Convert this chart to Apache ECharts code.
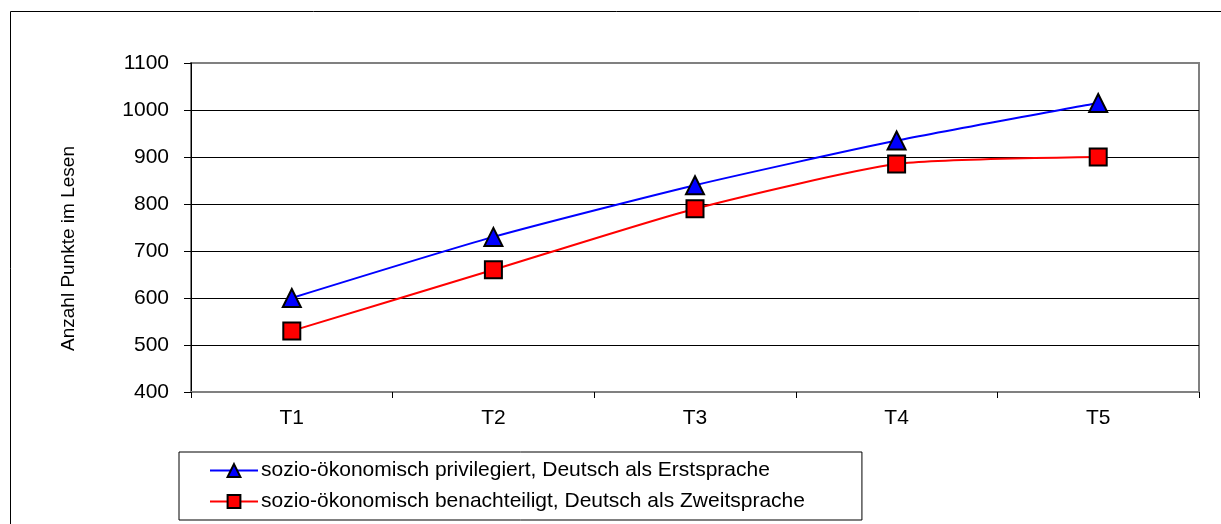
<!DOCTYPE html>
<html>
<head>
<meta charset="utf-8">
<script src="https://cdn.jsdelivr.net/npm/echarts@6/dist/echarts.min.js"></script>
<style>
  html, body { margin: 0; padding: 0; background: #fff; }
  #main { width: 1221px; height: 524px; }
</style>
</head>
<body>
<div id="main"></div>
<script>
// Messzeitpunkte
var zeitpunkte = ["T1", "T2", "T3", "T4", "T5"];
// Punkte im Lesen
var privilegiert = [600, 730, 840, 935, 1015];
var benachteiligt = [530, 660, 790, 885, 900];
var nameBlau = "sozio-ökonomisch privilegiert, Deutsch als Erstsprache";
var nameRot = "sozio-ökonomisch benachteiligt, Deutsch als Zweitsprache";

var chart = echarts.init(document.getElementById("main"));
var schrift = "Liberation Sans, Arial, sans-serif";

var option = {
  animation: false,
  textStyle: { fontFamily: schrift, color: "#000" },
  graphic: [
    {
      type: "rect",
      shape: { x: 10.5, y: 11.5, width: 1230, height: 530 },
      style: { fill: "none", stroke: "#000", lineWidth: 1 },
      silent: true
    }
  ],
  grid: {
    left: 191,
    right: 22,
    top: 63,
    bottom: 132,
    show: true,
    borderColor: "#808080",
    borderWidth: 2,
    backgroundColor: "#fff"
  },
  legend: {
    orient: "vertical",
    left: 179,
    top: 452,
    itemWidth: 48,
    itemHeight: 16,
    itemGap: 10,
    padding: [8, 57, 8, 30],
    borderColor: "#000",
    borderWidth: 1,
    textStyle: { fontSize: 21, color: "#000", fontFamily: schrift, padding: [0, 0, 0, -2] },
    data: [nameBlau, nameRot]
  },
  xAxis: {
    type: "category",
    data: zeitpunkte,
    boundaryGap: true,
    axisLine: { lineStyle: { color: "#808080", width: 2 } },
    axisTick: { show: true, length: 6, lineStyle: { color: "#000" } },
    axisLabel: { fontSize: 21, color: "#000", margin: 16 },
    splitLine: { show: false }
  },
  yAxis: {
    type: "value",
    min: 400,
    max: 1100,
    interval: 100,
    name: "Anzahl Punkte im Lesen",
    nameLocation: "middle",
    nameGap: 113,
    nameTextStyle: { fontSize: 19, color: "#000", padding: [0, 0, 0, -42] },
    axisLine: { show: true, lineStyle: { color: "#000", width: 1 } },
    axisTick: { show: true, length: 7, lineStyle: { color: "#000" } },
    axisLabel: {
      fontSize: 21,
      color: "#000",
      margin: 22,
      formatter: function (v) { return String(v); }
    },
    splitLine: {
      show: true,
      lineStyle: {
        color: ["#808080", "#000", "#000", "#000", "#000", "#000", "#000", "#808080"],
        width: 1
      }
    }
  },
  series: [
    {
      name: nameBlau,
      type: "line",
      data: privilegiert,
      smooth: 0.2,
      symbol: "triangle",
      symbolSize: 18,
      lineStyle: { color: "#0000ff", width: 2 },
      itemStyle: { color: "#0000ff", borderColor: "#000", borderWidth: 2 }
    },
    {
      name: nameRot,
      type: "line",
      data: benachteiligt,
      smooth: 0.2,
      symbol: "rect",
      symbolSize: 17,
      lineStyle: { color: "#ff0000", width: 2 },
      itemStyle: { color: "#ff0000", borderColor: "#000", borderWidth: 2 }
    }
  ]
};

option && chart.setOption(option);
</script>
</body>
</html>
